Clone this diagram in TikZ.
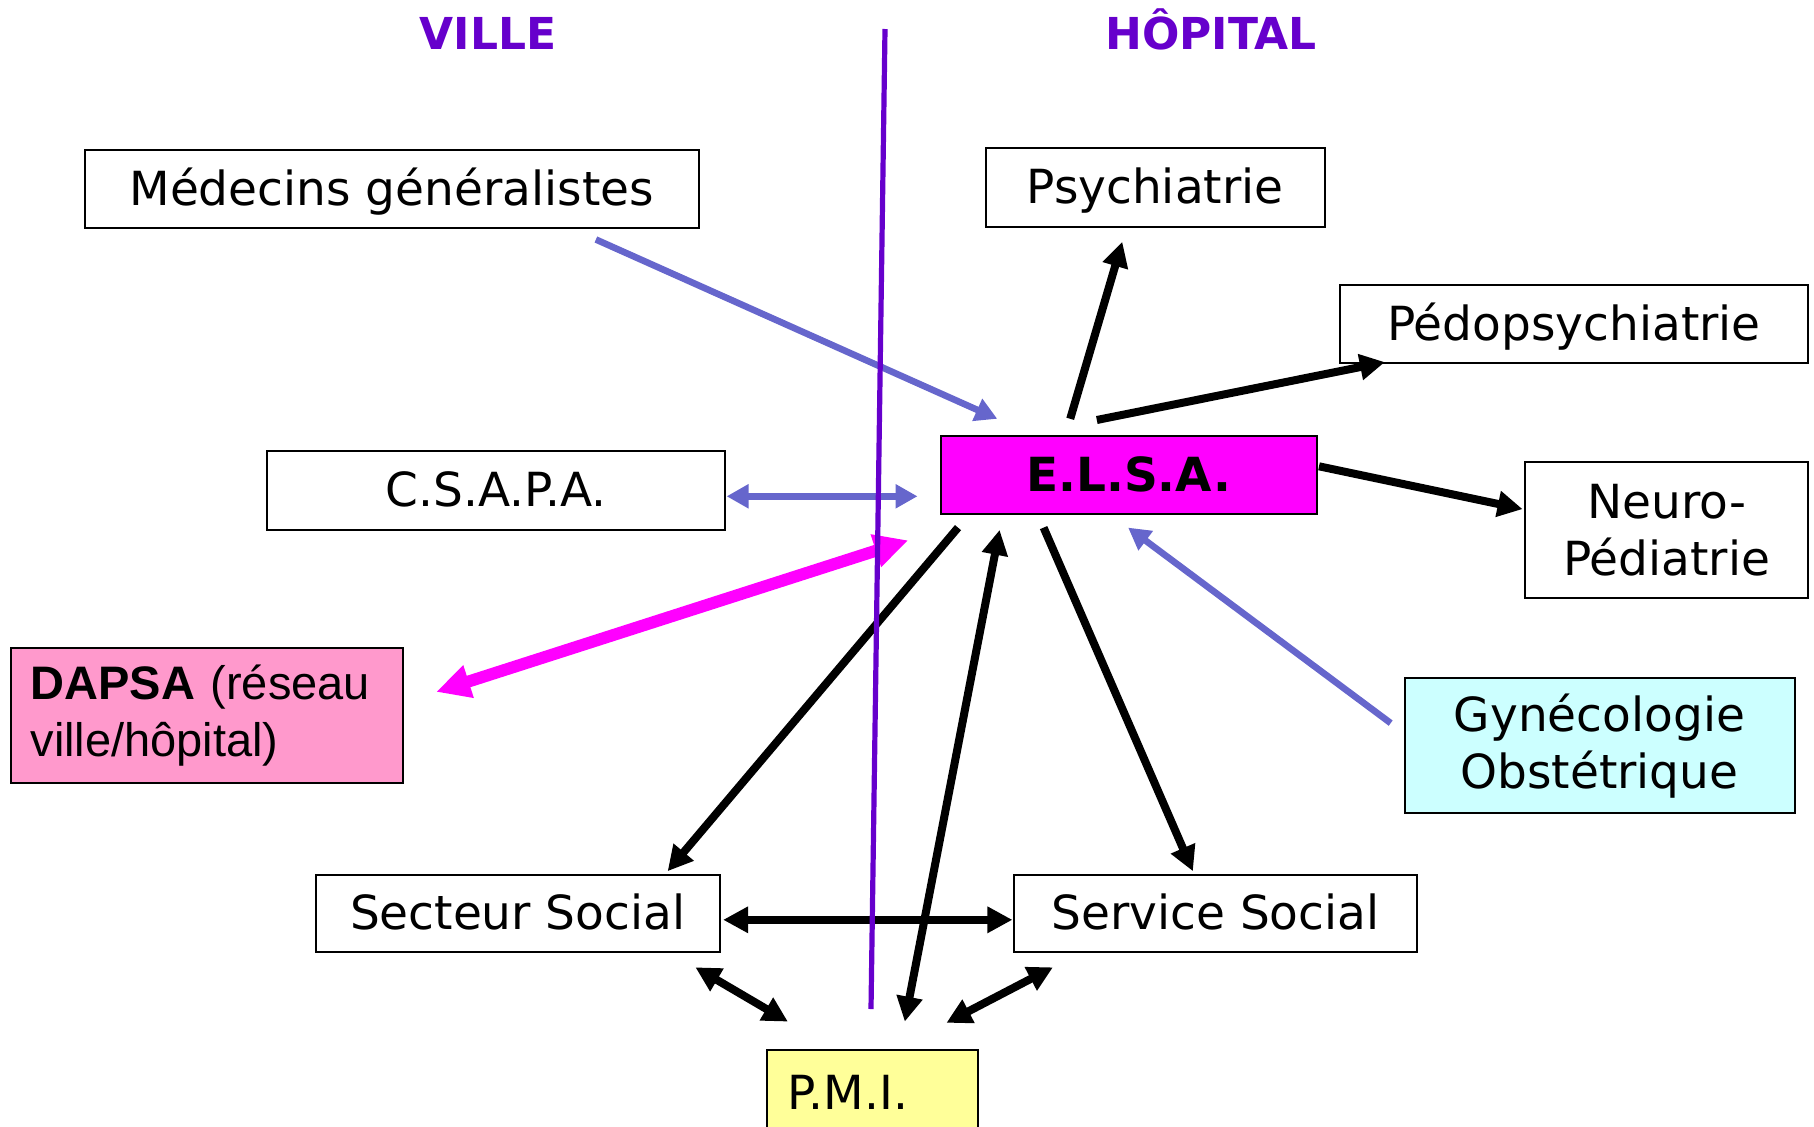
\documentclass[tikz,border=0pt]{standalone}
\usepackage{fontspec}
\setmainfont{DejaVu Sans}
\newfontfamily\arialfont{Liberation Sans}
\usetikzlibrary{arrows.meta}
\definecolor{villeviolet}{HTML}{6600CC}
\definecolor{linkblue}{HTML}{6666CC}
\definecolor{elsamagenta}{HTML}{FF00FF}
\definecolor{dapsapink}{HTML}{FF99CC}
\definecolor{gynecyan}{HTML}{CCFFFF}
\definecolor{pmiyellow}{HTML}{FFFF99}
\newcommand{\boxfont}{\fontsize{23.5pt}{28.5pt}\selectfont}
\tikzset{
  box/.style={draw, line width=1pt, fill=white, font=\boxfont, text height=18.8pt, text depth=2.35pt},
  twobox/.style={draw, line width=1pt, font=\boxfont, align=center},
  side/.style={text=villeviolet, font=\fontsize{22pt}{26pt}\selectfont\bfseries, anchor=base},
  blk/.style={line width=4pt, >={Triangle[length=12.5pt,width=12.5pt]}},
  blu/.style={line width=3.3pt, draw=linkblue, >={Triangle[length=11pt,width=11.5pt]}},
  mag/.style={line width=6pt, draw=elsamagenta, >={Triangle[length=17pt,width=16pt]}}
}
\begin{document}
\begin{tikzpicture}[x=0.5pt,y=-0.5pt]
\useasboundingbox (0,0) rectangle (1814,1126);
% titles
\node[side] (ville) at (488,49.5) {VILLE};
\node[side] (hopital) at (1211,49.5) {HÔPITAL};
% boxes
\node[box, minimum width=307pt, minimum height=39pt] (med) at (391.7,189.2) {Médecins généralistes};
\node[box, minimum width=169.5pt, minimum height=39.4pt] (psy) at (1155,187.5) {Psychiatrie};
\node[box, minimum width=234.3pt, minimum height=39.4pt] (pedo) at (1574,324) {Pédopsychiatrie};
\node[box, minimum width=229pt, minimum height=39.4pt] (csapa) at (496.3,490.5) {C.S.A.P.A.};
\node[box, fill=elsamagenta, font=\boxfont\bfseries, minimum width=188pt, minimum height=38.8pt] (elsa) at (1128.6,475) {E.L.S.A.};
\node[twobox, fill=white, minimum width=141.7pt, minimum height=68.3pt] (neuro) at (1666.6,529.9) {Neuro-\\Pédiatrie};
\node[twobox, fill=dapsapink, font=\arialfont\boxfont, text width=176pt, align=left, inner xsep=10pt, minimum height=67.7pt] (dapsa) at (206.5,715.6) {\textbf{DAPSA} (réseau\\ville/hôpital)};
\node[twobox, fill=gynecyan, minimum width=195pt, minimum height=67.7pt] (gyne) at (1599.5,745.6) {Gynécologie\\Obstétrique};
\node[box, minimum width=201.9pt, minimum height=38.8pt] (secteur) at (517.7,913.4) {Secteur Social};
\node[box, minimum width=201.9pt, minimum height=38.8pt] (service) at (1215.4,913.4) {Service Social};
\node[box, fill=pmiyellow, anchor=north west, text width=84.3pt, align=left, inner xsep=10.5pt, inner ysep=10.5pt, text depth=40pt] (pmi) at (765.9,1049.4) {P.M.I.};
% arrow ends
\coordinate (medA) at (595.9,239.5);   \coordinate (medB) at (997.3,418.8);
\coordinate (psyA) at (1070.2,418.8);  \coordinate (psyB) at (1122.3,241.8);
\coordinate (pedoA) at (1096.8,420);   \coordinate (pedoB) at (1384.9,362.1);
\coordinate (neuroA) at (1319,466.3);  \coordinate (neuroB) at (1522.6,509.1);
\coordinate (csapaA) at (726.6,496.3); \coordinate (csapaB) at (917.5,496.3);
\coordinate (dapsaA) at (436.2,691.9); \coordinate (dapsaB) at (908.2,540.3);
\coordinate (sectA) at (958,527.6);    \coordinate (sectB) at (667.6,871.2);
\coordinate (pmiA) at (904.8,1021.6);  \coordinate (pmiB) at (999.6,529.9);
\coordinate (servA) at (1043.6,527.6); \coordinate (servB) at (1192.9,871.2);
\coordinate (gyneA) at (1390.7,723.1); \coordinate (gyneB) at (1128.1,527.6);
\coordinate (socA) at (723.1,919.8);   \coordinate (socB) at (1012.4,919.8);
\coordinate (spA) at (695.4,967.3);    \coordinate (spB) at (787.9,1021.6);
\coordinate (vpA) at (1052.9,967.3);   \coordinate (vpB) at (946.4,1022.8);
% links
\draw[blu,->] (medA) -- (medB);
\draw[blu,<->] (csapaA) -- (csapaB);
\draw[blu,->] (gyneA) -- (gyneB);
\draw[mag,<->] (dapsaA) -- (dapsaB);
\draw[blk,->] (psyA) -- (psyB);
\draw[blk,->] (pedoA) -- (pedoB);
\draw[blk,->] (neuroA) -- (neuroB);
\draw[blk,->] (sectA) -- (sectB);
\draw[blk,->] (servA) -- (servB);
\draw[blk,<->] (pmiA) -- (pmiB);
\draw[blk,<->] (socA) -- (socB);
\draw[blk,<->] (spA) -- (spB);
\draw[blk,<->] (vpA) -- (vpB);
% ville / hopital
\coordinate (lineTop) at (885,29);
\coordinate (lineBot) at (871,1009);
\draw[villeviolet, line width=2.6pt] (lineTop) -- (lineBot);
\end{tikzpicture}
\end{document}
